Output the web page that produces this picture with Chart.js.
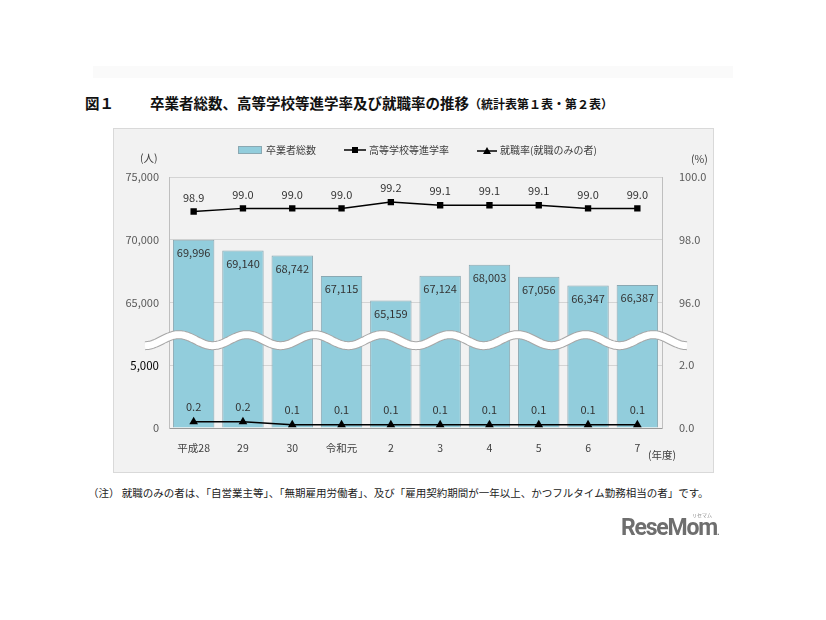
<!DOCTYPE html>
<html lang="ja">
<head>
<meta charset="utf-8">
<title>卒業者総数、高等学校等進学率及び就職率の推移</title>
<script src="https://cdn.jsdelivr.net/npm/chart.js@4.4.1/dist/chart.umd.min.js"></script>
<style>
    body {
        margin: 0;
        width: 826px;
        height: 620px;
        position: relative;
        background: #fff;
        font-family: "Noto Sans CJK JP", "Noto Sans", sans-serif;
        color: #333;
        overflow: hidden;
    }
    .abs { position: absolute; white-space: nowrap; line-height: 1; }
    .top-band { left: 93px; top: 66px; width: 640px; height: 12px; background: #fafafa; }
    .fig-title { left: 85px; top: 96px; font-size: 14.5px; font-weight: bold; color: #111; }
    .fig-title .lead { margin-right: 36px; }
    .fig-title small { font-size: 12px; }
    .panel {
        left: 113px; top: 128px; width: 601px; height: 345px;
        background: #f2f2f2;
        box-shadow: inset 0 0 0 1px #d9d9d9;
    }
    .legend { left: 238px; top: 142px; height: 16px; display: flex; align-items: center; font-size: 10px; color: #404040; }
    .legend .box { width: 22px; height: 6px; background: #92cddc; border: 1px solid #8aa8b2; margin-right: 4px; }
    .legend svg { margin-right: 3px; }
    .legend .gap { width: 28px; }
    .unit { font-size: 10.5px; color: #404040; }
    .note { left: 88px; top: 488px; font-size: 10.5px; color: #222; }
    .logo { left: 621px; top: 516px; font-family: Roboto, "Liberation Sans", sans-serif; font-weight: bold; font-size: 23px; color: #6e6e6e; letter-spacing: -1.2px; }
    .logo small { font-size: 9px; letter-spacing: 0; }
    .logo-kana { left: 692px; top: 512px; font-size: 5px; color: #888; }
</style>
</head>
<body>
<div class="abs top-band"></div>
<div class="abs fig-title"><span class="lead">図１</span>卒業者総数、高等学校等進学率及び就職率の推移<small>（統計表第１表・第２表）</small></div>

<div class="abs panel">
    <canvas id="grad-chart" width="601" height="345"></canvas>
</div>

<!-- legend -->
<div class="abs legend">
    <span class="box"></span><span>卒業者総数</span>
    <span class="gap"></span>
    <svg width="22" height="10"><line x1="0" y1="5" x2="22" y2="5" stroke="#000" stroke-width="1.5"/><rect x="8" y="2" width="6" height="6" fill="#000"/></svg><span>高等学校等進学率</span>
    <span class="gap"></span>
    <svg width="20" height="10"><line x1="0" y1="6" x2="20" y2="6" stroke="#000" stroke-width="1.5"/><polygon points="6,9 14,9 10,2" fill="#000"/></svg><span>就職率(就職のみの者)</span>
</div>

<div class="abs unit" style="left:140px; top:153px;">(人)</div>
<div class="abs unit" style="left:691px; top:154px;">(%)</div>
<div class="abs unit" style="left:648px; top:450px;">(年度)</div>

<div class="abs note">（注）&nbsp;就職のみの者は、「自営業主等」、「無期雇用労働者」、及び「雇用契約期間が一年以上、かつフルタイム勤務相当の者」です。</div>
<div class="abs logo">ReseMom<small>.</small></div>
<div class="abs logo-kana">リセマム</div>

<script>
    // Data
    const years = ['平成28', '29', '30', '令和元', '2', '3', '4', '5', '6', '7'];
    const graduates = [69996, 69140, 68742, 67115, 65159, 67124, 68003, 67056, 66347, 66387];
    const advanceRate = [98.9, 99.0, 99.0, 99.0, 99.2, 99.1, 99.1, 99.1, 99.0, 99.0];
    const employRate = [0.2, 0.2, 0.1, 0.1, 0.1, 0.1, 0.1, 0.1, 0.1, 0.1];
    const leftTicks = ['0', '5,000', '65,000', '70,000', '75,000'];
    const rightTicks = ['0.0', '2.0', '96.0', '98.0', '100.0'];

    const FONT = '"Noto Sans CJK JP", "Noto Sans", sans-serif';

    /**
     * Broken axes: the range between the two segments is cut out
     */
    function breakLeft(v) {
        return v > 10000 ? v - 55000 : v;
    }
    function breakRight(v) {
        return v > 4 ? v - 92 : v;
    }

    // White wavy band over the axis break
    const breakBand = {
        id: 'breakBand',
        afterDatasetsDraw: function(chart) {
            const ctx = chart.ctx;
            const area = chart.chartArea;
            const cy = chart.scales.y.getPixelForValue(7000);
            const x0 = area.left - 24;
            const x1 = area.right + 25;
            const waves = 8;

            ctx.save();
            ctx.beginPath();
            for (let x = x0; x <= x1; x++) {
                const y = cy + 5.5 * Math.cos((x - x0) / (x1 - x0) * waves * 2 * Math.PI);
                if (x === x0) {
                    ctx.moveTo(x, y);
                } else {
                    ctx.lineTo(x, y);
                }
            }
            ctx.lineCap = 'butt';
            ctx.lineWidth = 9;
            ctx.strokeStyle = '#a6a6a6';
            ctx.stroke();
            ctx.lineWidth = 7;
            ctx.strokeStyle = '#fff';
            ctx.stroke();
            ctx.restore();
        }
    };

    // Value labels on bars and points
    const valueLabels = {
        id: 'valueLabels',
        afterDatasetsDraw: function(chart) {
            const ctx = chart.ctx;
            ctx.save();
            ctx.font = '11px ' + FONT;
            ctx.fillStyle = '#333';
            ctx.textAlign = 'center';
            ctx.textBaseline = 'middle';

            chart.getDatasetMeta(0).data.forEach(function(bar, i) {
                ctx.fillText(graduates[i].toLocaleString('en-US'), bar.x, bar.y + 13);
            });
            chart.getDatasetMeta(1).data.forEach(function(pt, i) {
                ctx.fillText(advanceRate[i].toFixed(1), pt.x, pt.y - 14);
            });
            chart.getDatasetMeta(2).data.forEach(function(pt, i) {
                ctx.fillText(employRate[i].toFixed(1), pt.x, pt.y - 15);
            });
            ctx.restore();
        }
    };

    new Chart(document.getElementById('grad-chart'), {
        type: 'bar',
        data: {
            labels: years,
            datasets: [{
                type: 'bar',
                label: '卒業者総数',
                data: graduates.map(breakLeft),
                yAxisID: 'y',
                backgroundColor: '#92cddc',
                borderColor: '#8aa8b2',
                borderWidth: 1,
                barPercentage: 0.84,
                categoryPercentage: 1,
                order: 2
            }, {
                type: 'line',
                label: '高等学校等進学率',
                data: advanceRate.map(breakRight),
                yAxisID: 'y1',
                borderColor: '#000',
                borderWidth: 1.5,
                pointStyle: 'rect',
                pointRadius: 4.5,
                pointBackgroundColor: '#000',
                pointBorderWidth: 0,
                order: 0
            }, {
                type: 'line',
                label: '就職率(就職のみの者)',
                data: employRate.map(breakRight),
                yAxisID: 'y1',
                borderColor: '#000',
                borderWidth: 1.5,
                pointStyle: 'triangle',
                pointRadius: 5,
                pointBackgroundColor: '#000',
                pointBorderWidth: 0,
                order: 1
            }]
        },
        options: {
            responsive: false,
            animation: false,
            layout: {
                padding: { top: 49, left: 0, right: 0, bottom: 0 }
            },
            plugins: {
                legend: { display: false },
                tooltip: { enabled: false }
            },
            scales: {
                x: {
                    grid: { display: false },
                    border: { color: '#9a9a9a' },
                    ticks: {
                        padding: 6,
                        color: '#404040',
                        font: { family: FONT, size: 10.5 }
                    },
                    afterFit: function(scale) { scale.height = 45; }
                },
                y: {
                    position: 'left',
                    min: 0,
                    max: 20000,
                    grid: { color: '#d4d4d4', drawTicks: false },
                    border: { color: '#bfbfbf' },
                    ticks: {
                        stepSize: 5000,
                        padding: 10,
                        color: function(c) { return c.index === 1 ? '#000' : '#595959'; },
                        font: function(c) {
                            return { family: FONT, size: c.index === 1 ? 11.5 : 11 };
                        },
                        callback: function(value, index) { return leftTicks[index]; }
                    },
                    afterFit: function(scale) { scale.width = 56; }
                },
                y1: {
                    position: 'right',
                    min: 0,
                    max: 8,
                    grid: { display: false },
                    border: { color: '#bfbfbf' },
                    ticks: {
                        stepSize: 2,
                        padding: 9,
                        color: '#595959',
                        font: { family: FONT, size: 11 },
                        callback: function(value, index) { return rightTicks[index]; }
                    },
                    afterFit: function(scale) { scale.width = 52; }
                }
            }
        },
        plugins: [breakBand, valueLabels]
    });
</script>
</body>
</html>
